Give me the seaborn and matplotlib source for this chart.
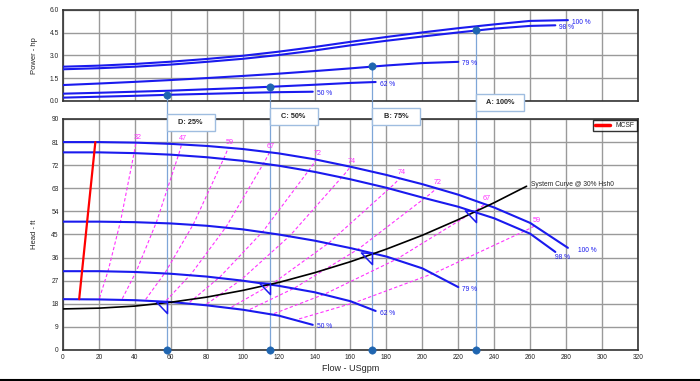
import matplotlib
matplotlib.use("Agg")
import matplotlib.pyplot as plt
import matplotlib.transforms as mtransforms
from matplotlib.patches import Rectangle
from matplotlib.lines import Line2D
from matplotlib.ticker import FormatStrFormatter
import pandas as pd
import seaborn as sns

# Speed curves (head and power vs flow)
speeds = ["100 %", "98 %", "79 %", "62 %", "50 %"]
flow_100 = [0, 20, 40, 60, 80, 100, 120, 140, 160, 180, 200, 220, 240, 260, 281]
head_100 = [81, 81, 80.8, 80.3, 79.5, 78.3, 76.6, 74.3, 71.4, 68.2, 64.6, 60.5, 55.5, 49.5, 39.8]
power_100 = [2.26, 2.33, 2.44, 2.59, 2.77, 2.98, 3.25, 3.56, 3.9, 4.22, 4.52, 4.8, 5.05, 5.28, 5.33]
flow_98 = [0, 20, 40, 60, 80, 100, 120, 140, 160, 180, 200, 220, 240, 260, 274]
head_98 = [77, 77, 76.7, 76.1, 75.1, 73.7, 71.8, 69.4, 66.5, 63.2, 59.4, 55.8, 51.3, 45.3, 38.2]
power_98 = [2.09, 2.16, 2.26, 2.4, 2.58, 2.78, 3.03, 3.33, 3.67, 3.97, 4.25, 4.52, 4.77, 4.95, 4.99]
flow_79 = [0, 20, 40, 60, 80, 100, 120, 140, 160, 180, 200, 220]
head_79 = [50, 50, 49.8, 49.3, 48.4, 47, 45, 42.6, 39.7, 36.4, 31.8, 24.5]
power_79 = [1.05, 1.15, 1.26, 1.38, 1.51, 1.65, 1.8, 1.97, 2.15, 2.34, 2.5, 2.58]
flow_62 = [0, 20, 40, 60, 80, 100, 120, 140, 160, 174]
head_62 = [30.7, 30.7, 30.4, 29.7, 28.6, 27, 25, 22.5, 19, 15.2]
power_62 = [0.48, 0.54, 0.61, 0.68, 0.77, 0.86, 0.96, 1.07, 1.19, 1.25]
flow_50 = [0, 20, 40, 60, 80, 100, 120, 139]
head_50 = [19.8, 19.7, 19.4, 18.7, 17.4, 15.7, 13.4, 9.8]
power_50 = [0.22, 0.28, 0.34, 0.41, 0.47, 0.53, 0.58, 0.61]

# System curve and minimum continuous stable flow
sys_flow = [0, 20, 40, 60, 80, 100, 120, 140, 160, 180, 200, 220, 240, 258]
sys_head = [16, 16.3, 17.1, 18.6, 20.6, 23.2, 26.3, 30.1, 34.4, 39.3, 44.7, 50.8, 57.4, 63.8]
mcsf_flow = [9, 18]
mcsf_head = [19.8, 81]

# Iso-efficiency lines (points where they cross 50/62/79/98/100 % curves)
eff_labels = ["32", "47", "59", "67", "72", "74", "74", "72", "67", "59"]
eff_flow = [
    [20.3, 25.2, 32.1, 39.8, 40.6],
    [33, 40.9, 52.1, 64.7, 66],
    [46, 57, 72.7, 90.2, 92],
    [57.5, 71.3, 90.9, 112.7, 115],
    [70.5, 87.4, 111.4, 138.2, 141],
    [80, 99.2, 126.4, 156.8, 160],
    [93.8, 116.3, 148.1, 183.8, 187.5],
    [104, 129, 164.3, 203.8, 208],
    [117.5, 145.7, 185.7, 230.3, 235],
    [131.4, 162.9, 207.5, 257.4, 262.7],
]
eff_head = [
    [20.2, 31.1, 50.4, 77.6, 80.8],
    [20, 30.8, 50, 76.9, 80.1],
    [19.7, 30.3, 49.2, 75.7, 78.8],
    [19.3, 29.6, 48.1, 74, 77.1],
    [18.6, 28.5, 46.3, 71.3, 74.2],
    [17.9, 27.4, 44.6, 68.6, 71.4],
    [16.7, 25.7, 41.8, 64.3, 66.9],
    [15.8, 24.2, 39.3, 60.5, 63],
    [14.2, 21.8, 35.4, 54.6, 56.8],
    [12.1, 18.6, 30.2, 46.5, 48.4],
]

# Operating points
op_labels = ["A: 100%", "B: 75%", "C: 50%", "D: 25%"]
op_flow = [230, 172, 115, 57.7]
op_head = [54, 37.7, 26, 18.8]
op_power = [4.68, 2.28, 0.92, 0.40]

BLUE = "#1a1aee"
PINK = "#ff33ff"
OPLINE = "#7ea6d8"
DOT = "#1f65b0"
BOXEDGE = "#9fbde0"
GRID = "#9a9a9a"

curves = pd.concat([
    pd.DataFrame({"flow": f, "head": h, "power": p, "speed": s})
    for f, h, p, s in zip(
        [flow_100, flow_98, flow_79, flow_62, flow_50],
        [head_100, head_98, head_79, head_62, head_50],
        [power_100, power_98, power_79, power_62, power_50],
        speeds,
    )
], ignore_index=True)

eff = pd.concat([
    pd.DataFrame({"flow": f, "head": h, "line": i})
    for i, (f, h) in enumerate(zip(eff_flow, eff_head))
], ignore_index=True)

sns.set_style("white")
plt.rcParams["font.family"] = ["Liberation Sans", "DejaVu Sans"]

fig = plt.figure(figsize=(7, 3.81), dpi=100)
ax_p = fig.add_axes([0.09, 0.735, 0.8214, 0.2388])
ax_h = fig.add_axes([0.09, 0.0814, 0.8214, 0.6063])

palette = {s: BLUE for s in speeds}

# Power chart
sns.lineplot(data=curves, x="flow", y="power", hue="speed", palette=palette,
             estimator=None, sort=False, legend=False, lw=1.5, ax=ax_p, zorder=4)
ax_p.vlines(op_flow, 0, op_power, colors=OPLINE, lw=0.9, zorder=3)
sns.scatterplot(x=op_flow, y=op_power, color=DOT, s=28, edgecolor=DOT,
                ax=ax_p, zorder=6, clip_on=False)

# Head chart
sns.lineplot(data=eff, x="flow", y="head", units="line", estimator=None, sort=False,
             color=PINK, lw=0.8, linestyle=(0, (3, 2)), ax=ax_h, zorder=3)
sns.lineplot(data=curves, x="flow", y="head", hue="speed", palette=palette,
             estimator=None, sort=False, legend=False, lw=1.5, ax=ax_h, zorder=4)
sns.lineplot(x=sys_flow, y=sys_head, color="black", lw=1.2, ax=ax_h, zorder=4)
sns.lineplot(x=mcsf_flow, y=mcsf_head, color="red", lw=1.6, ax=ax_h, zorder=4)
ax_h.vlines(op_flow, 0, 97, colors=OPLINE, lw=0.9, zorder=2, clip_on=False)
ax_h.plot(op_flow, op_head, linestyle="none",
          marker=[(0, 0), (-1, 0.05), (0, -1), (0, 0)], ms=16,
          mfc="none", mec=BLUE, mew=1.1, zorder=5)
sns.scatterplot(x=op_flow, y=[0] * len(op_flow), color=DOT, s=28, edgecolor=DOT,
                ax=ax_h, zorder=6, clip_on=False)

# Curve labels
for ax, col in [(ax_h, "head"), (ax_p, "power")]:
    for s in speeds:
        last = curves[curves["speed"] == s].iloc[-1]
        off = (3, -1.5)
        if ax is ax_h and s == "100 %":
            off = (7, -2)
        elif ax is ax_h and s == "98 %":
            off = (0, -4)
        ax.annotate(s, (last["flow"], last[col]), xytext=off, textcoords="offset points",
                    ha="left", va="center", fontsize=4.8, color=BLUE)

for lab, f, h in zip(eff_labels, eff_flow, eff_head):
    ax_h.annotate(lab, (f[-1], h[-1]), xytext=(1, 4), textcoords="offset points",
                  ha="center", va="center", fontsize=5.2, color=PINK)

ax_h.annotate("System Curve @ 30% Hsh0", (sys_flow[-1], sys_head[-1]), xytext=(3, 1),
              textcoords="offset points", ha="left", va="center", fontsize=4.8)

ax_h.legend(handles=[Line2D([0], [0], color="red", lw=2.5)], labels=["MCSF"],
            loc="upper right", fontsize=4.9, frameon=True, fancybox=False,
            edgecolor="black", borderaxespad=0.2, handlelength=2.2, borderpad=0.3)

# Operating point label boxes
trans = mtransforms.blended_transform_factory(ax_h.transData, fig.transFigure)
box_bottom = [0.709, 0.672, 0.672, 0.656]
for lab, q, yb in zip(op_labels, op_flow, box_bottom):
    fig.add_artist(Rectangle((q, yb), 26.7, 17 / 381, transform=trans,
                             facecolor="white", edgecolor=BOXEDGE, lw=1.0, zorder=5))
    fig.text(q + 13.35, yb + 8.5 / 381, lab, transform=trans, ha="center", va="center",
             fontsize=5.3, fontweight="bold", zorder=6)

# Axes styling
for ax in (ax_p, ax_h):
    ax.set_xlim(0, 320)
    ax.set_xticks(range(0, 321, 20))
    ax.grid(True, color=GRID, lw=1.0)
    ax.set_axisbelow(True)
    ax.tick_params(length=0, labelsize=4.8, pad=3)
    for sp in ax.spines.values():
        sp.set_color("#333333")
        sp.set_linewidth(1.2)

ax_p.set_ylim(0, 6)
ax_p.set_yticks([0, 1.5, 3, 4.5, 6])
ax_p.yaxis.set_major_formatter(FormatStrFormatter("%.1f"))
ax_p.set_xticklabels([])
ax_p.set_xlabel("")
ax_p.set_ylabel("Power - hp", fontsize=5.5)
ax_p.yaxis.set_label_coords(-0.043, 0.5)

ax_h.set_ylim(0, 90)
ax_h.set_yticks(range(0, 91, 9))
ax_h.set_ylabel("Head - ft", fontsize=5.5)
ax_h.yaxis.set_label_coords(-0.043, 0.5)
ax_h.set_xlabel("Flow - USgpm", fontsize=6.5, va="center")
ax_h.xaxis.set_label_coords(0.5, -0.078)

fig.add_artist(Line2D([0, 1], [0.003, 0.003], transform=fig.transFigure,
                      color="black", lw=1.5))

fig.savefig("out.png", dpi=100)
